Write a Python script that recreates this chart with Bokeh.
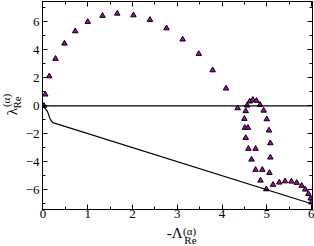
import math
from bokeh.plotting import figure
from bokeh.layouts import row, column
from bokeh.models import Range1d, SingleIntervalTicker, LinearAxis, CustomJSTickFormatter
from bokeh.core.properties import value
from bokeh.embed import file_html
from bokeh.resources import INLINE

# Triangle data
tri_x = [0.02, 0.05, 0.14, 0.28, 0.48, 0.72, 1.0, 1.33, 1.66, 2.02,
         2.39, 2.76, 3.12, 3.48, 3.79, 4.09, 4.35, 4.53, 4.56, 4.62,
         4.69, 4.77, 4.85, 4.93, 5.0, 4.50, 4.51, 4.58, 5.05, 4.53,
         5.08, 4.59, 4.75, 4.66, 5.08, 4.75, 4.90, 5.06, 4.86, 4.99,
         5.14, 5.28, 5.41, 5.55, 5.67, 5.78, 5.86, 5.93, 5.98, 6.0]
tri_y = [0.0, 0.81, 2.11, 3.36, 4.45, 5.33, 6.0, 6.43, 6.59, 6.47,
         6.14, 5.54, 4.74, 3.71, 2.54, 1.24, -0.17, -0.38, 0.02, 0.31,
         0.43, 0.36, 0.07, -0.34, -0.96, -0.93, -1.57, -1.57, -1.76, -2.29,
         -2.67, -3.07, -3.07, -3.84, -3.69, -4.57, -4.57, -4.79, -5.34, -5.96,
         -5.64, -5.48, -5.39, -5.41, -5.5, -5.71, -5.98, -6.29, -6.62, -6.9]

# Black boundary line
line_x = [0.0, 0.1, 0.16, 0.22, 6.0]
line_y = [0.0, -0.4, -0.95, -1.2, -7.0]

# Zero line
zero_x = [0.0, 6.0]
zero_y = [0.0, 0.0]

# Axis-label pieces
ylab_text = ["λ", "(α)", "Re"]
xlab_text = ["-Λ", "(α)", "Re"]

FONT = "Liberation Serif"

p = figure(width=292, height=224, output_backend="svg", toolbar_location=None,
           x_range=Range1d(-0.011, 6.022), y_range=Range1d(-7.41, 7.45),
           min_border_left=16, min_border_right=2, min_border_top=1,
           min_border_bottom=15, background_fill_color="white",
           border_fill_color="white")
p.grid.visible = False
p.outline_line_color = "black"

def style(ax, labels=True, standoff=3):
    ax.axis_line_color = "black"
    ax.axis_line_width = 1
    ax.major_tick_in = 5
    ax.major_tick_out = 0
    ax.minor_tick_in = 3
    ax.minor_tick_out = 0
    ax.major_tick_line_color = "black"
    ax.minor_tick_line_color = "black"
    if labels:
        ax.major_label_text_font = FONT
        ax.major_label_text_font_size = "13px"
        ax.major_label_text_color = "black"
        ax.major_label_standoff = standoff
    else:
        ax.formatter = CustomJSTickFormatter(code="return ''")
        ax.major_label_standoff = 0

p.xaxis.ticker = SingleIntervalTicker(interval=1, num_minor_ticks=2)
p.yaxis.ticker = SingleIntervalTicker(interval=2, num_minor_ticks=2)
style(p.xaxis[0], standoff=0)
style(p.yaxis[0], standoff=3)

top = LinearAxis(ticker=SingleIntervalTicker(interval=1, num_minor_ticks=2))
right = LinearAxis(ticker=SingleIntervalTicker(interval=2, num_minor_ticks=2))
style(top, labels=False)
style(right, labels=False)
p.add_layout(top, "above")
p.add_layout(right, "right")

p.scatter(tri_x, tri_y, marker="triangle", size=5.5, fill_color="#b400b4",
          line_color="black", line_width=1)
p.line(zero_x, zero_y, line_color="black", line_width=1.2)
p.line(line_x, line_y, line_color="black", line_width=1.2)

def label_fig(w, h, xr, yr):
    f = figure(width=w, height=h, output_backend="svg", toolbar_location=None,
               x_range=xr, y_range=yr, min_border=0,
               x_axis_location=None, y_axis_location=None)
    f.grid.visible = False
    f.outline_line_color = None
    f.background_fill_color = "white"
    f.border_fill_color = "white"
    return f

# y-axis label strip (pixel coordinates, y downward)
yl = label_fig(22, 246, Range1d(0, 22), Range1d(246, 0))
yl.text(x=[11.5], y=[111], text=[ylab_text[0]], angle=math.pi / 2,
        text_font=value(FONT), text_font_size="15px", text_color="black",
        text_align="center", text_baseline="middle")
yl.text(x=[5.8, 16.0], y=[100, 102], text=ylab_text[1:], angle=math.pi / 2,
        text_font=value(FONT), text_font_size="11px", text_color="black",
        text_align="center", text_baseline="middle")

# x-axis label strip
xl = label_fig(292, 22, Range1d(22, 314), Range1d(246, 224))
xl.text(x=[165], y=[232], text=[xlab_text[0]],
        text_font=value(FONT), text_font_size="15px", text_color="black",
        text_align="center", text_baseline="middle")
xl.text(x=[181, 182], y=[230.5, 239.7], text=xlab_text[1:],
        text_font=value(FONT), text_font_size="11px", text_color="black",
        text_align="center", text_baseline="middle")

layout = row(yl, column(p, xl))

open("out.html", "w").write(file_html(layout, INLINE))
